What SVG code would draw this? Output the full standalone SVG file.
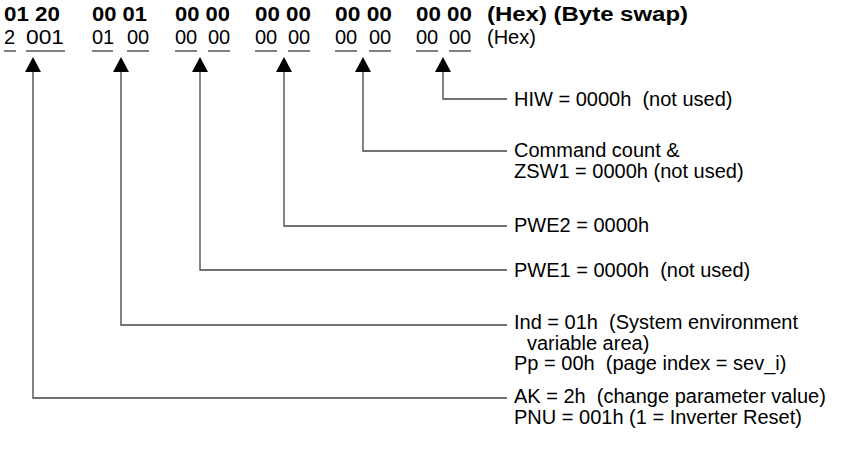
<svg xmlns="http://www.w3.org/2000/svg" width="858" height="466" viewBox="0 0 858 466">
  <defs>
    <style>
      .hexb { font-family: "Liberation Sans", Arial, sans-serif; font-size: 20px; font-weight: bold; fill: #000; }
      .hex { font-family: "Liberation Sans", Arial, sans-serif; font-size: 20px; fill: #000; }
      .lbl { font-family: "Liberation Sans", Arial, sans-serif; font-size: 20px; fill: #000; white-space: pre; }
      .ul { stroke: #808080; stroke-width: 2; fill: none; }
      .conn { stroke: #444; stroke-width: 1.3; fill: none; }
      .head { fill: #000; }
    </style>
  </defs>
  <rect width="858" height="466" fill="#fff"/>

  <!-- byte-swapped telegram words -->
  <g id="row-swapped">
    <text class="hexb" x="4" y="21" textLength="56" lengthAdjust="spacingAndGlyphs">01 20</text>
    <text class="hexb" x="92" y="21" textLength="55" lengthAdjust="spacingAndGlyphs">00 01</text>
    <text class="hexb" x="175" y="21" textLength="55" lengthAdjust="spacingAndGlyphs">00 00</text>
    <text class="hexb" x="255" y="21" textLength="56" lengthAdjust="spacingAndGlyphs">00 00</text>
    <text class="hexb" x="335" y="21" textLength="57" lengthAdjust="spacingAndGlyphs">00 00</text>
    <text class="hexb" x="416" y="21" textLength="56" lengthAdjust="spacingAndGlyphs">00 00</text>
    <text class="hexb" x="487" y="21" textLength="201" lengthAdjust="spacingAndGlyphs">(Hex) (Byte swap)</text>
  </g>

  <!-- telegram words in natural order -->
  <g id="row-hex">
    <text class="hex" x="4" y="44">2</text>
    <text class="hex" x="26" y="44" textLength="38" lengthAdjust="spacingAndGlyphs">001</text>
    <text class="hex" x="92" y="44">01</text>
    <text class="hex" x="127" y="44">00</text>
    <text class="hex" x="175" y="44">00</text>
    <text class="hex" x="208" y="44">00</text>
    <text class="hex" x="255" y="44">00</text>
    <text class="hex" x="288" y="44">00</text>
    <text class="hex" x="335" y="44">00</text>
    <text class="hex" x="369" y="44">00</text>
    <text class="hex" x="416" y="44">00</text>
    <text class="hex" x="449" y="44">00</text>
    <text class="hex" x="487" y="44">(Hex)</text>
    <path class="ul" d="M4 51H16M26 51H65M92 51H113M127 51H149M175 51H197M208 51H230M255 51H277M288 51H310M335 51H357M369 51H391M416 51H438M449 51H471"/>
  </g>

  <!-- field descriptions -->
  <g id="hiw">
    <text class="lbl" x="514" y="106">HIW = 0000h  (not used)</text>
  </g>
  <g id="zsw1">
    <text class="lbl" x="514" y="157">Command count &amp;</text>
    <text class="lbl" x="514" y="178">ZSW1 = 0000h (not used)</text>
  </g>
  <g id="pwe2">
    <text class="lbl" x="514" y="232">PWE2 = 0000h</text>
  </g>
  <g id="pwe1">
    <text class="lbl" x="514" y="277">PWE1 = 0000h  (not used)</text>
  </g>
  <g id="ind">
    <text class="lbl" x="514" y="329">Ind = 01h  (System environment</text>
    <text class="lbl" x="527" y="350">variable area)</text>
    <text class="lbl" x="514" y="370">Pp = 00h  (page index = sev_i)</text>
  </g>
  <g id="ak">
    <text class="lbl" x="514" y="403">AK = 2h  (change parameter value)</text>
    <text class="lbl" x="514" y="424">PNU = 001h (1 = Inverter Reset)</text>
  </g>

  <!-- leader lines from each word to its description -->
  <g id="connectors">
    <path class="conn" d="M443 70V99H507"/>
    <path class="conn" d="M363 70V151H507"/>
    <path class="conn" d="M284 70V226H507"/>
    <path class="conn" d="M200 70V270H507"/>
    <path class="conn" d="M121 70V325H507"/>
    <path class="conn" d="M33 70V398H507"/>
    <path class="head" d="M443 57L451 72H435Z"/>
    <path class="head" d="M363 57L371 72H355Z"/>
    <path class="head" d="M284 57L292 72H276Z"/>
    <path class="head" d="M200 57L208 72H192Z"/>
    <path class="head" d="M121 57L129 72H113Z"/>
    <path class="head" d="M33 57L41 72H25Z"/>
  </g>
</svg>
